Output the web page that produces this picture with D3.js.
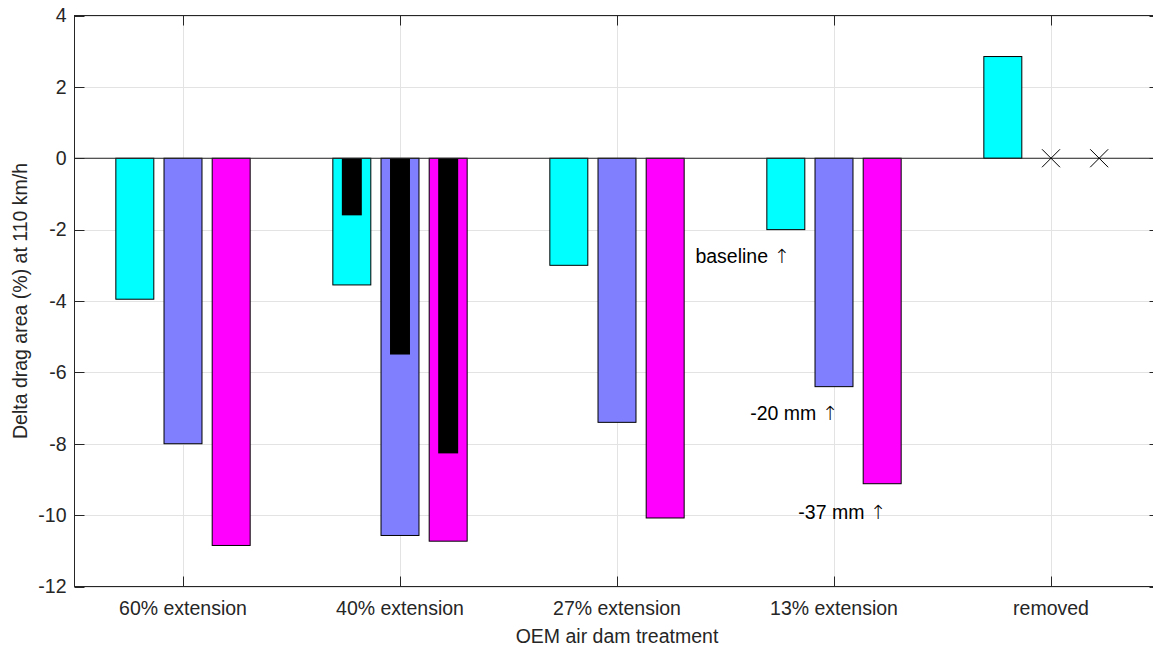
<!DOCTYPE html>
<html>
<head>
<meta charset="utf-8">
<script src="https://cdn.jsdelivr.net/npm/d3@7"></script>
<style>
  body { margin: 0; background: #fff; }
  svg { display: block; font-family: "Liberation Sans", Arial, sans-serif; }
</style>
</head>
<body>
<svg id="chart" width="1153" height="647"></svg>
<script>
// categories along the x axis
const categories = ["60% extension", "40% extension", "27% extension", "13% extension", "removed"];
// three wide bar series (baseline, -20 mm, -37 mm)
const baselineValues = [-3.95, -3.55, -3.0, -2.0, 2.85];
const minus20Values = [-8.0, -10.57, -7.4, -6.4, 0];
const minus37Values = [-10.85, -10.73, -10.08, -9.12, 0];
// narrow black overlay bars (only measured for 40% extension)
const overlayValues = [
  [null, -1.6, null, null, null],
  [null, -5.5, null, null, null],
  [null, -8.27, null, null, null]
];
// missing points marked with an X
const missingPoints = [
  { cat: 4, series: 1, value: 0 },
  { cat: 4, series: 2, value: 0 }
];
const yTicks = [4, 2, 0, -2, -4, -6, -8, -10, -12];
const annotations = [
  { text: "baseline", cat: 3, series: 0, value: -2.73 },
  { text: "-20 mm", cat: 3, series: 1, value: -7.14 },
  { text: "-37 mm", cat: 3, series: 2, value: -9.92 }
];

const seriesValues = [baselineValues, minus20Values, minus37Values];
const seriesColors = ["#00ffff", "#8080ff", "#ff00ff"];
const groupOffset = 0.222;
const barWidth = 0.175;
const narrowWidth = 0.092;

const margin = { left: 74.5, top: 15.5, right: 1159.5, bottom: 586.5 };
const axisColor = "#262626";
const fs = 19.5;

const svg = d3.select("#chart");

const x = d3.scaleLinear().domain([0.5, categories.length + 0.5]).range([margin.left, margin.right]);
const y = d3.scaleLinear().domain([-12, 4]).range([margin.bottom, margin.top]);
const pos = (cat, s) => x(cat + 1 + (s - 1) * groupOffset);

// grid
const grid = svg.append("g");
grid.selectAll("line.gy").data(yTicks).join("line")
  .attr("x1", margin.left).attr("x2", margin.right)
  .attr("y1", d => Math.round(y(d)) + 0.5).attr("y2", d => Math.round(y(d)) + 0.5)
  .attr("stroke", "#e3e3e3").attr("stroke-width", 1);
grid.selectAll("line.gx").data(categories).join("line")
  .attr("x1", (d, i) => Math.round(x(i + 1)) + 0.5).attr("x2", (d, i) => Math.round(x(i + 1)) + 0.5)
  .attr("y1", margin.top).attr("y2", margin.bottom)
  .attr("stroke", "#e3e3e3").attr("stroke-width", 1);

// wide bars
seriesValues.forEach((vals, s) => {
  svg.append("g").selectAll("rect").data(vals).join("rect")
    .attr("x", (d, i) => pos(i, s) - (x(barWidth) - x(0)) / 2)
    .attr("width", x(barWidth) - x(0))
    .attr("y", d => y(Math.max(0, d)))
    .attr("height", d => Math.abs(y(d) - y(0)))
    .attr("fill", seriesColors[s])
    .attr("stroke", "#000").attr("stroke-width", 1);
});

// narrow overlay bars
overlayValues.forEach((vals, s) => {
  svg.append("g").selectAll("rect").data(vals.map((v, i) => ({ v, i })).filter(d => d.v !== null)).join("rect")
    .attr("x", d => pos(d.i, s) - (x(narrowWidth) - x(0)) / 2)
    .attr("width", x(narrowWidth) - x(0))
    .attr("y", d => y(Math.max(0, d.v)))
    .attr("height", d => Math.abs(y(d.v) - y(0)))
    .attr("fill", "#000");
});

// zero baseline
svg.append("line")
  .attr("x1", margin.left).attr("x2", margin.right)
  .attr("y1", y(0)).attr("y2", y(0))
  .attr("stroke", axisColor).attr("stroke-width", 1);

// X markers
const m = 9;
svg.append("g").selectAll("path").data(missingPoints).join("path")
  .attr("d", d => {
    const cx = pos(d.cat, d.series), cy = y(d.value);
    return `M${cx - m},${cy - m}L${cx + m},${cy + m}M${cx - m},${cy + m}L${cx + m},${cy - m}`;
  })
  .attr("stroke", "#000").attr("stroke-width", 1).attr("fill", "none");

// axes box and ticks
const box = svg.append("g").attr("stroke", axisColor).attr("fill", "none");
box.append("rect")
  .attr("x", margin.left).attr("y", margin.top)
  .attr("width", margin.right - margin.left).attr("height", margin.bottom - margin.top)
  .attr("stroke-width", 1);
const tl = 10;
yTicks.forEach(t => {
  const ty = Math.round(y(t)) + 0.5;
  box.append("line").attr("x1", margin.left).attr("x2", margin.left + tl).attr("y1", ty).attr("y2", ty);
  box.append("line").attr("x1", margin.right).attr("x2", margin.right - tl).attr("y1", ty).attr("y2", ty);
});
categories.forEach((c, i) => {
  const tx = Math.round(x(i + 1)) + 0.5;
  box.append("line").attr("x1", tx).attr("x2", tx).attr("y1", margin.bottom).attr("y2", margin.bottom - tl);
  box.append("line").attr("x1", tx).attr("x2", tx).attr("y1", margin.top).attr("y2", margin.top + tl);
});

// tick labels
svg.append("g").selectAll("text").data(yTicks).join("text")
  .attr("x", margin.left - 8).attr("y", d => y(d))
  .attr("dy", "0.35em").attr("text-anchor", "end")
  .attr("font-size", fs).attr("fill", axisColor)
  .text(d => String(d));
svg.append("g").selectAll("text").data(categories).join("text")
  .attr("x", (d, i) => x(i + 1)).attr("y", margin.bottom + 28)
  .attr("text-anchor", "middle")
  .attr("font-size", fs).attr("fill", axisColor)
  .text(d => d);

// axis labels
svg.append("text")
  .attr("x", (margin.left + margin.right) / 2).attr("y", 643)
  .attr("text-anchor", "middle").attr("font-size", fs).attr("fill", axisColor)
  .text("OEM air dam treatment");
svg.append("text")
  .attr("transform", `translate(27,${(margin.top + margin.bottom) / 2}) rotate(-90)`)
  .attr("text-anchor", "middle").attr("font-size", fs).attr("fill", axisColor)
  .text("Delta drag area (%) at 110 km/h");

// annotations
const ann = svg.append("g").selectAll("text").data(annotations).join("text")
  .attr("x", d => pos(d.cat, d.series) + 4).attr("y", d => y(d.value))
  .attr("dy", "0.35em").attr("text-anchor", "end")
  .attr("font-size", fs).attr("fill", "#000");
ann.append("tspan").text(d => d.text + " ");
ann.append("tspan").attr("font-family", "DejaVu Sans").attr("font-weight", 200).text("\u2191");
</script>
</body>
</html>
